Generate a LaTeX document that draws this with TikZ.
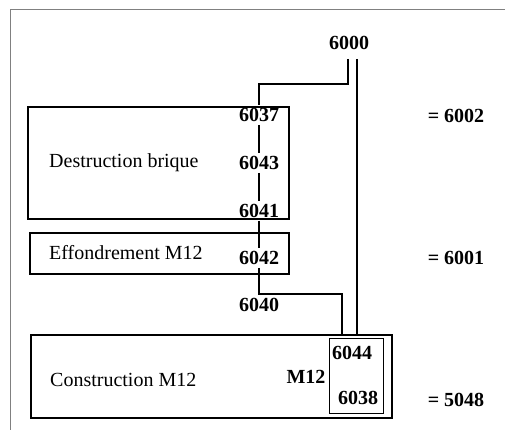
\documentclass[tikz,border=0pt]{standalone}
\usepackage{fontspec}
\setmainfont{Liberation Serif}
\begin{document}
\begin{tikzpicture}[x=1pt, y=-1pt,
    boite/.style={draw, line width=2.4pt, anchor=north west, inner sep=0pt},
    num/.style={font=\fontsize{20}{24}\selectfont\bfseries, inner sep=3pt},
    nom/.style={font=\fontsize{20}{24}\selectfont, anchor=west, inner sep=0pt},
    lien/.style={line width=2.2pt}]
    \useasboundingbox (0,0) rectangle (505,430);

    % Cadre
    \draw[black!50, line width=1pt] (10,430) -- (10,10) -- (505,10);

    % Boites
    \node[boite, minimum width=261pt, minimum height=112pt] (destr) at (27,106) {};
    \node[boite, minimum width=259pt, minimum height=41pt] (effond) at (29,232) {};
    \node[boite, minimum width=361pt, minimum height=83pt] (constr) at (30,334) {};
    \node[boite, line width=1pt, minimum width=54pt, minimum height=75pt] (m12box) at (329,338) {};

    % Noms
    \node[nom] (tdestr) at (49,163) {Destruction brique};
    \node[nom] (teffond) at (49,253) {Effondrement M12};
    \node[nom] (tconstr) at (50,380) {Construction M12};

    % Numeros
    \node[num] (n6000) at (349,43) {6000};
    \node[num] (n6037) at (259,115) {6037};
    \node[num] (n6043) at (259,163) {6043};
    \node[num] (n6041) at (259,211) {6041};
    \node[num] (n6042) at (259,258) {6042};
    \node[num] (n6040) at (259,305) {6040};
    \node[num] (n6044) at (352,353) {6044};
    \node[num] (n6038) at (358,398) {6038};
    \node[num] (nM12) at (306,377) {M12};

    % Egalites
    \node[num] (e6002) at (456,116) {= 6002};
    \node[num] (e6001) at (456,258) {= 6001};
    \node[num] (e5048) at (456,400) {= 5048};

    % Liens
    \coordinate (s6000a) at (348,59);
    \coordinate (s6000b) at (357,59);
    \coordinate (f6040) at (342,334);
    \draw[lien] (s6000a) -- ++(0,25) -| (n6037.north);
    \draw[lien] (n6037) -- (n6043);
    \draw[lien] (n6043) -- (n6041);
    \draw[lien] (n6041) -- (n6042);
    \draw[lien] (n6042.south) -- ++(0,26) -| (f6040);
    \draw[lien] (s6000b) -- (s6000b |- constr.north);
\end{tikzpicture}
\end{document}
